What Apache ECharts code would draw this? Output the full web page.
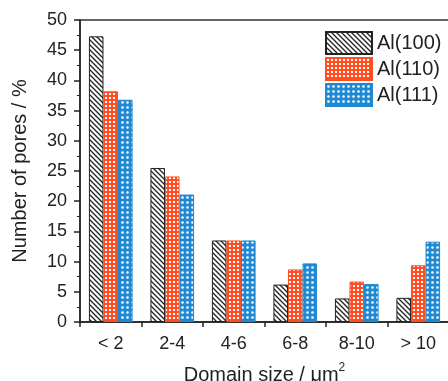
<!DOCTYPE html>
<html>
<head>
<meta charset="utf-8">
<script src="https://cdn.jsdelivr.net/npm/echarts@6/dist/echarts.min.js"></script>
<style>
	html, body { margin: 0; padding: 0; background: #fff; }
	#main { width: 448px; height: 381px; }
</style>
</head>
<body>
<div id="main"></div>
<script>
	// 数据
	var categories = ['< 2', '2-4', '4-6', '6-8', '8-10', '> 10'];
	var al100 = [47.3, 25.5, 13.5, 6.2, 3.9, 4.0];
	var al110 = [38.2, 24.1, 13.5, 8.7, 6.7, 9.4];
	var al111 = [36.8, 21.1, 13.5, 9.7, 6.3, 13.3];
	var yTicks = [0, 50, 5];

	var ORANGE = '#ff4f22';
	var BLUE = '#1f8ad3';

	// 斜线填充
	function hatch() {
		var c = document.createElement('canvas');
		c.width = 5; c.height = 5;
		var g = c.getContext('2d');
		g.fillStyle = '#fff';
		g.fillRect(0, 0, 5, 5);
		g.strokeStyle = '#222';
		g.lineWidth = 1.3;
		g.beginPath();
		g.moveTo(-1, -1); g.lineTo(6, 6);
		g.moveTo(-1, 4); g.lineTo(1, 6);
		g.moveTo(4, -1); g.lineTo(6, 1);
		g.stroke();
		return { image: c, repeat: 'repeat' };
	}
	// 网格填充
	function grid() {
		var c = document.createElement('canvas');
		c.width = 4; c.height = 4;
		var g = c.getContext('2d');
		g.fillStyle = ORANGE;
		g.fillRect(0, 0, 4, 4);
		g.fillStyle = '#fff';
		g.fillRect(1, 1, 2, 2);
		return { image: c, repeat: 'repeat' };
	}
	// 圆点填充
	function dots() {
		var c = document.createElement('canvas');
		c.width = 5; c.height = 5;
		var g = c.getContext('2d');
		g.fillStyle = BLUE;
		g.fillRect(0, 0, 5, 5);
		g.fillStyle = '#fff';
		g.beginPath();
		g.arc(2.5, 2.5, 1.3, 0, Math.PI * 2);
		g.fill();
		return { image: c, repeat: 'repeat' };
	}

	var myChart = echarts.init(document.getElementById('main'));
	var font = 'Liberation Sans, Arial, sans-serif';
	option = {
		animation: false,
		textStyle: { fontFamily: font },
		grid: {
			left: 80, right: -1, top: 20, bottom: 59,
			outerBoundsMode: 'none',
			containLabel: false,
			show: true, borderColor: '#333', borderWidth: 1.5
		},
		legend: {
			orient: 'vertical',
			left: 325, top: 31,
			padding: 0,
			itemWidth: 46, itemHeight: 22, itemGap: 2,
			icon: 'rect',
			textStyle: { fontSize: 20, color: '#222', fontFamily: font }
		},
		xAxis: {
			type: 'category',
			data: categories,
			name: 'Domain size / \u03bcm{sup|2}',
			nameLocation: 'middle',
			nameGap: 40,
			nameTextStyle: {
				fontSize: 20, color: '#222', fontFamily: font,
				rich: { sup: { fontSize: 12, verticalAlign: 'top', padding: [0, 0, 14, 0], color: '#222' } }
			},
			axisLine: { lineStyle: { color: '#222', width: 1.5 } },
			axisTick: { show: true, inside: false, length: 5, interval: 0, lineStyle: { color: '#222', width: 1.5 } },
			axisLabel: { fontSize: 18, color: '#222', margin: 13, interval: 0 }
		},
		yAxis: {
			type: 'value',
			min: yTicks[0], max: yTicks[1], interval: yTicks[2],
			name: 'Number of pores / %',
			nameLocation: 'middle',
			nameRotate: 90,
			nameGap: 50,
			nameTextStyle: { fontSize: 20, color: '#222', fontFamily: font },
			splitLine: { show: false },
			axisLine: { show: true, lineStyle: { color: '#222', width: 1.5 } },
			axisTick: { show: true, inside: false, length: 6, lineStyle: { color: '#222', width: 1.5 } },
			minorTick: { show: true, splitNumber: 2, length: 3, lineStyle: { color: '#222', width: 1 } },
			axisLabel: { fontSize: 18, color: '#222', margin: 13 }
		},
		series: [{
				name: 'Al(100)',
				type: 'bar',
				data: al100,
				barGap: 0,
				barCategoryGap: '29%',
				itemStyle: { color: hatch(), borderColor: '#222', borderWidth: 1 }
			},
			{
				name: 'Al(110)',
				type: 'bar',
				data: al110,
				itemStyle: { color: grid(), borderColor: ORANGE, borderWidth: 1 }
			},
			{
				name: 'Al(111)',
				type: 'bar',
				data: al111,
				itemStyle: { color: dots(), borderColor: BLUE, borderWidth: 1 }
			}
		]
	};
	myChart.setOption(option);
</script>
</body>
</html>
